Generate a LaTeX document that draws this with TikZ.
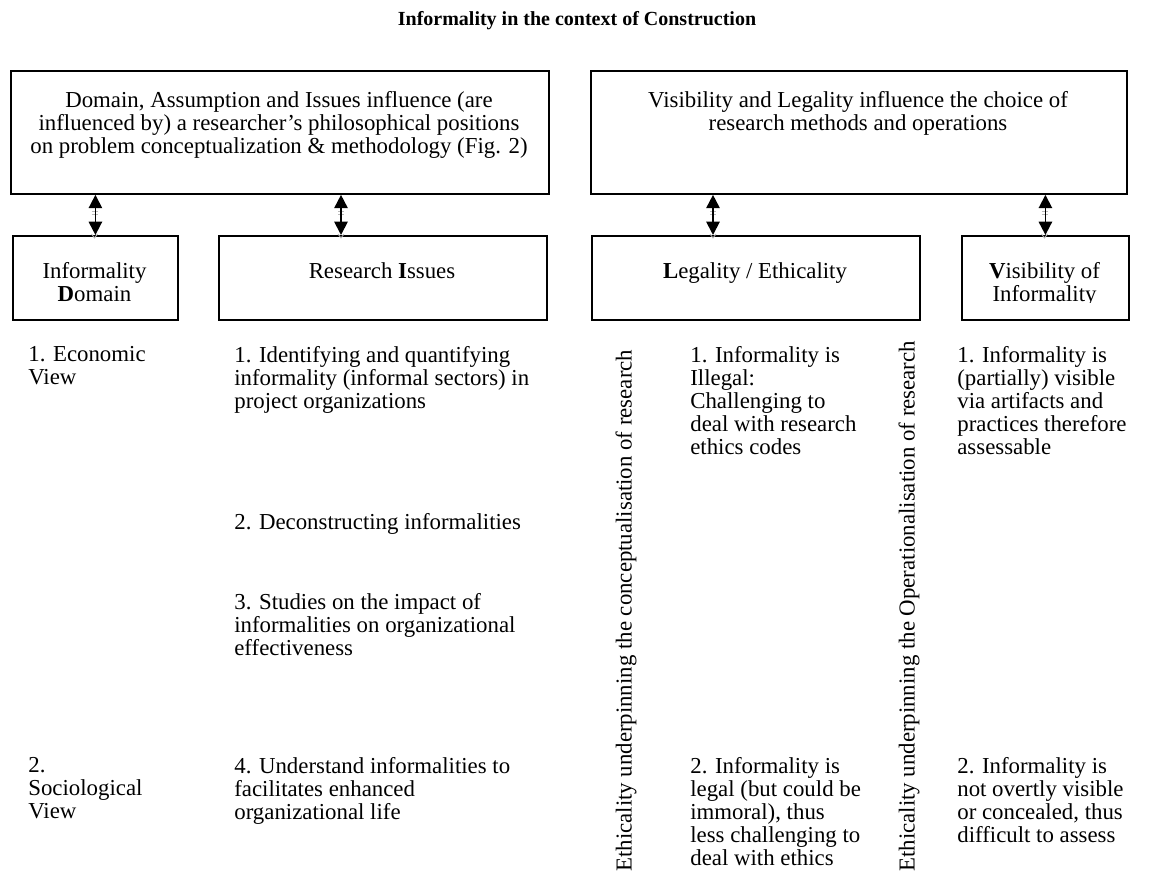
\documentclass[tikz,border=0pt]{standalone}
\usepackage{fontspec}
\setmainfont{Liberation Serif}
\usetikzlibrary{arrows.meta}
\begin{document}
\begin{tikzpicture}[x=0.6pt,y=-0.6pt,
  every node/.style={font=\fontsize{13.7}{13.8}\selectfont},
  box/.style={draw,line width=1.1pt,inner sep=0pt,anchor=north west},
  txt/.style={inner sep=0pt,anchor=north west,align=left},
  ctxt/.style={inner sep=0pt,anchor=north,align=center},
  vtxt/.style={inner sep=0pt,anchor=west,rotate=90},
  dbl/.style={line width=1.1pt,{Triangle[width=8pt,length=8pt]}-{Triangle[width=8pt,length=8pt]}},
  shade/.style={line width=0.5pt,gray!55}]
\useasboundingbox (0,0) rectangle (1153,881);
% title
\node[ctxt,font=\fontsize{12}{13.8}\selectfont\bfseries] (title) at (577,11) {Informality in the context of Construction};
% top boxes
\node[box,minimum width=538*0.6pt,minimum height=123*0.6pt] (A) at (10,70) {};
\node[ctxt] (At) at (279,91) {Domain, Assumption and Issues influence (are\\influenced by) a researcher’s philosophical positions\\on problem conceptualization \& methodology (Fig. 2)};
\node[box,minimum width=536*0.6pt,minimum height=123*0.6pt] (B) at (590,70) {};
\node[ctxt] (Bt) at (858,91) {Visibility and Legality influence the choice of\\research methods and operations};
% lower boxes
\node[box,minimum width=165*0.6pt,minimum height=84*0.6pt] (dom) at (12,235) {};
\node[box,minimum width=328*0.6pt,minimum height=84*0.6pt] (ri) at (218,235) {};
\node[box,minimum width=328*0.6pt,minimum height=84*0.6pt] (leg) at (591,235) {};
\node[box,minimum width=167*0.6pt,minimum height=84*0.6pt] (vis) at (961,235) {};
\begin{scope}
\clip (12,235) rectangle (177,302);
\node[ctxt] (domt) at (94.5,262) {Informality\\\textbf{D}omain};
\end{scope}
\node[ctxt] (rit) at (382,262) {Research \textbf{I}ssues};
\node[ctxt] (legt) at (755,262) {\textbf{L}egality / Ethicality};
\begin{scope}
\clip (961,235) rectangle (1128,302);
\node[ctxt] (vist) at (1044.5,262) {\textbf{V}isibility of\\Informality};
\end{scope}
% arrows (with faint grey shadow marks)
\foreach \ax/\up/\lo in {94.5/A/dom, 341/A/ri, 713/B/leg, 1044.5/B/vis}{
  \draw[shade] (\ax-3,211) -- (\ax+3,211) (\ax-3,214) -- (\ax+3,214);
  \draw[shade] (\ax-3,234) -- (\ax,238) -- (\ax+3,234);
}
\draw[dbl] (A.south -| dom.north) -- (dom.north);
\draw[dbl] (A.south -| 341,0) -- (ri.north -| 341,0);
\draw[dbl] (B.south -| 713,0) -- (leg.north -| 713,0);
\draw[dbl] (B.south -| vis.north) -- (vis.north);
% column texts
\node[txt] (d1) at (28,346) {1. Economic\\View};
\node[txt] (d2) at (28,757) {2.\\Sociological\\View};
\node[txt] (r1) at (234,346) {1. Identifying and quantifying\\informality (informal sectors) in\\project organizations};
\node[txt] (r2) at (234,513) {2. Deconstructing informalities};
\node[txt] (r3) at (234,593) {3. Studies on the impact of\\informalities on organizational\\effectiveness};
\node[txt] (r4) at (234,757) {4. Understand informalities to\\facilitates enhanced\\organizational life};
\node[vtxt] (e1) at (626,872) {Ethicality underpinning the conceptualisation of research};
\node[vtxt] (e2) at (909,872) {Ethicality underpinning the Operationalisation of research};
\node[txt] (l1) at (690,346) {1. Informality is\\Illegal:\\Challenging to\\deal with research\\ethics codes};
\node[txt] (l2) at (690,757) {2. Informality is\\legal (but could be\\immoral), thus\\less challenging to\\deal with ethics};
\node[txt] (v1) at (957,346) {1. Informality is\\(partially) visible\\via artifacts and\\practices therefore\\assessable};
\node[txt] (v2) at (957,757) {2. Informality is\\not overtly visible\\or concealed, thus\\difficult to assess};
\end{tikzpicture}
\end{document}
